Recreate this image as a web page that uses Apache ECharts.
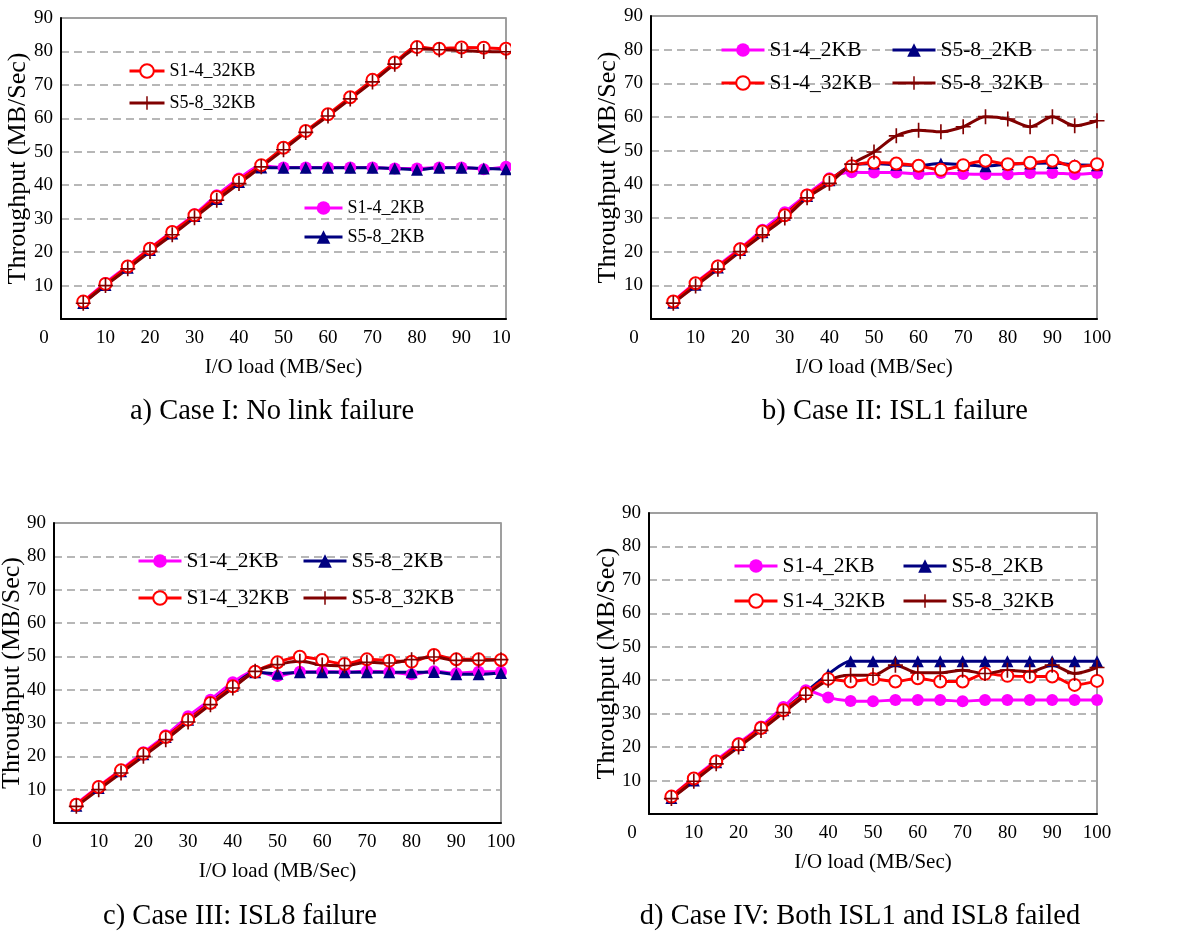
<!DOCTYPE html>
<html><head><meta charset="utf-8">
<script src="https://cdn.jsdelivr.net/npm/echarts@6/dist/echarts.min.js"></script>
<style>
html,body{margin:0;padding:0;background:#fff;width:1193px;height:935px;overflow:hidden;position:relative}
.p{position:absolute;overflow:hidden}
</style></head><body>
<div id="pa" class="p" style="left:0;top:0;width:511px;height:470px"></div>
<div id="pb" class="p" style="left:575px;top:0;width:618px;height:470px"></div>
<div id="pc" class="p" style="left:0;top:470px;width:560px;height:465px"></div>
<div id="pd" class="p" style="left:575px;top:470px;width:618px;height:465px"></div>
<script>
// ---------- data ----------
const loads = [5,10,15,20,25,30,35,40,45,50,55,60,65,70,75,80,85,90,95,100];
const seriesNames = ['S1-4_2KB','S5-8_2KB','S1-4_32KB','S5-8_32KB'];
const yTickMin = 0, yTickMax = 90, yTickStep = 10;
const xTickMin = 0, xTickMax = 100, xTickStep = 10;
const captions = ['a) Case I: No link failure','b) Case II: ISL1 failure','c) Case III: ISL8 failure','d) Case IV: Both ISL1 and ISL8 failed'];
const xTitle = 'I/O load (MB/Sec)';
const yTitle = 'Throughput (MB/Sec)';

const caseI_S14_2KB  = [5.3,10.8,15.9,21.2,26.2,31.3,37,42,45.8,45.3,45.3,45.3,45.3,45.3,45,45,45.3,45.3,44.8,45.5];
const caseI_S58_2KB  = [4.8,10.2,15.3,20.6,25.6,30.8,35.9,41,45.3,45.2,45.2,45.2,45.2,45.2,45,44.6,45.2,45.2,45,44.8];
const caseI_S14_32KB = [5.2,10.5,15.7,21,26,31,36.5,41.5,46,51.2,56.2,61.2,66.3,71.5,76.7,81.3,80.8,81.2,81.1,80.8];
const caseI_S58_32KB = [4.7,10,15,20.2,25.2,30.3,35.5,40.5,45.5,50.6,55.8,60.7,65.8,70.9,76.2,80.8,80.5,80.3,80,79.9];

const caseII_S14_2KB  = [5.3,10.8,15.9,21,26.5,31.7,37,41.8,43.6,43.5,43.5,43.1,43.4,43.1,43,43,43.4,43.4,43,43.4];
const caseII_S58_2KB  = [4.8,10.2,15.3,20.5,25.8,31,36.5,41.2,45.6,46.2,45.8,45.6,46.2,45.8,45.4,46,46.2,46.3,45.8,45.7];
const caseII_S14_32KB = [5.2,10.6,15.6,20.7,26,30.8,36.7,41.3,45.4,46.5,46.2,45.5,44.3,45.7,47,46,46.4,47,45.2,46];
const caseII_S58_32KB = [4.7,9.8,14.8,20,25,30,36,40.3,46,49.6,54.4,56.1,55.6,57.1,60.1,59.4,57.1,60.1,57.4,58.9];

const caseIII_S14_2KB  = [5.8,11,16,21.2,26.3,32,37,42.2,45.6,44.1,45.4,45.4,45.3,45.5,45.3,44.6,45.5,44.9,45.4,45.4];
const caseIII_S58_2KB  = [5.2,10.5,15.5,20.6,25.8,31,36.2,41.2,45.2,44.8,45.2,45.2,45.2,45.2,45.2,45.2,45.3,44.6,44.6,45];
const caseIII_S14_32KB = [5.5,10.8,15.8,20.8,25.8,31,36,41,45.4,48.2,49.9,48.9,47.7,49.1,48.7,48.4,50.4,49.1,49.1,48.9];
const caseIII_S58_32KB = [5,10,15,20,25,30.3,35.5,40.5,45.5,47.5,48.5,47.4,47.2,48.2,48,49,49.8,48.8,48.8,49];

const caseIV_S14_2KB  = [5.3,10.8,16,21.2,26.2,32,37,34.8,33.8,33.7,34.1,34.1,34.1,33.7,34.1,34.1,34.1,34.1,34.1,34.1];
const caseIV_S58_2KB  = [4.8,10,15.5,20.6,25.8,31,36.5,41.8,45.7,45.7,45.7,45.7,45.7,45.7,45.7,45.7,45.7,45.7,45.7,45.7];
const caseIV_S14_32KB = [5.2,10.6,15.7,20.8,25.7,31,36,40.4,39.6,40.4,39.6,40.6,39.6,39.6,41.9,41.3,41.1,41.1,38.6,39.8];
const caseIV_S58_32KB = [4.6,9.8,15,20,25,30.3,35.5,40,41.5,41.5,44.5,42.2,42.2,43,42,43,42.5,44.5,42,43.8];

// ---------- styling / layout ----------
const FONT = "'Liberation Serif','Times New Roman',serif";
const PLUS = 'path://M-0.11,-1L0.11,-1L0.11,-0.11L1,-0.11L1,0.11L0.11,0.11L0.11,1L-0.11,1L-0.11,0.11L-1,0.11L-1,-0.11L-0.11,-0.11Z';
const seriesStyle = [
  {symbol:'circle', symbolSize:12, color:'#FF00FF'},
  {symbol:'triangle', symbolSize:12, color:'#000080'},
  {symbol:'emptyCircle', symbolSize:12, color:'#FF0000'},
  {symbol:PLUS, symbolSize:15, color:'#800000'}
];

const panels = [
  {el:'pa', values:[caseI_S14_2KB,caseI_S58_2KB,caseI_S14_32KB,caseI_S58_32KB],
   grid:{left:61,top:18,width:445,height:301}, cap:[272,412], legendFont:18, lh:18, yGap:30,
   legends:[{names:[seriesNames[2],seriesNames[3]],left:128,top:62,gap:14,w:35},
            {names:[seriesNames[0],seriesNames[1]],left:303,top:199,gap:11,w:38}]},
  {el:'pb', values:[caseII_S14_2KB,caseII_S58_2KB,caseII_S14_32KB,caseII_S58_32KB],
   grid:{left:76,top:16,width:446,height:303}, cap:[320,412], legendFont:21.5, lh:22, yGap:30,
   legends:[{names:[seriesNames[0],seriesNames[2]],left:145,top:39,gap:11,w:43},
            {names:[seriesNames[1],seriesNames[3]],left:316,top:39,gap:11,w:43}]},
  {el:'pc', values:[caseIII_S14_2KB,caseIII_S58_2KB,caseIII_S14_32KB,caseIII_S58_32KB],
   grid:{left:54,top:53,width:447,height:300}, cap:[240,447], legendFont:21.5, lh:22, yGap:29,
   legends:[{names:[seriesNames[0],seriesNames[2]],left:137,top:80,gap:15,w:43},
            {names:[seriesNames[1],seriesNames[3]],left:302,top:80,gap:15,w:43}]},
  {el:'pd', values:[caseIV_S14_2KB,caseIV_S58_2KB,caseIV_S14_32KB,caseIV_S58_32KB],
   grid:{left:74,top:43,width:448,height:301}, cap:[285,447], legendFont:21.5, lh:22, yGap:29,
   legends:[{names:[seriesNames[0],seriesNames[2]],left:158,top:85,gap:13,w:43},
            {names:[seriesNames[1],seriesNames[3]],left:327,top:85,gap:13,w:43}]}
];

panels.forEach((p, k) => {
  const chart = echarts.init(document.getElementById(p.el), null, {renderer:'canvas'});
  const series = seriesNames.map((name, i) => ({
    name, type:'line', smooth:0.3,
    data: loads.map((x, j) => [x, p.values[i][j]]),
    symbol: seriesStyle[i].symbol, symbolSize: seriesStyle[i].symbolSize,
    showAllSymbol: true,
    itemStyle: Object.assign({color: seriesStyle[i].color}, i===2 ? {borderWidth:1.5} : {}),
    lineStyle: {color: seriesStyle[i].color, width:3},
    emphasis: {disabled:true},
    animation:false
  }));
  const option = {
    animation:false,
    grid: Object.assign({show:true, borderColor:'#808080', borderWidth:1.5, backgroundColor:'#fff',
      containLabel:false, outerBoundsMode:'none'}, p.grid),
    xAxis: {
      type:'value', min:xTickMin, max:xTickMax, interval:xTickStep,
      axisLine:{show:true, onZero:false, lineStyle:{color:'#000', width:2}},
      axisTick:{show:false}, splitLine:{show:false},
      axisLabel:{color:'#000', fontFamily:FONT, fontSize:19, margin:10,
        formatter: v => v === 0 ? '{z|0}' : String(v),
        rich:{z:{padding:[0,34,0,0], fontFamily:FONT, fontSize:19, color:'#000'}}},
      name:xTitle, nameLocation:'middle', nameGap:38, nameMoveOverlap:false,
      nameTextStyle:{color:'#000', fontFamily:FONT, fontSize:21}
    },
    yAxis: {
      type:'value', min:yTickMin, max:yTickMax, interval:yTickStep,
      axisLine:{show:true, lineStyle:{color:'#000', width:2}},
      axisTick:{show:false},
      splitLine:{show:true, lineStyle:{color:'#a0a0a0', width:1.5, type:[8,5]}},
      axisLabel:{color:'#000', fontFamily:FONT, fontSize:19, margin:8,
        formatter: v => v === 0 ? '' : String(v)},
      name:yTitle, nameLocation:'middle', nameGap:p.yGap, nameMoveOverlap:false,
      nameTextStyle:{color:'#000', fontFamily:FONT, fontSize:26}
    },
    legend: p.legends.map(l => ({
      data:l.names, left:l.left, top:l.top, orient:'vertical', itemGap:l.gap,
      itemWidth:l.w, itemHeight:17, padding:0, selectedMode:false,
      lineStyle:{width:3},
      textStyle:{color:'#000', fontFamily:FONT, fontSize:p.legendFont, lineHeight:p.lh}
    })),
    graphic: [{type:'text', x:p.cap[0], y:p.cap[1],
      style:{text:captions[k], fill:'#000', fontFamily:FONT, fontSize:28.5, textAlign:'center', textVerticalAlign:'middle'}}],
    series
  };
  chart.setOption(option);
});
</script>
</body></html>
